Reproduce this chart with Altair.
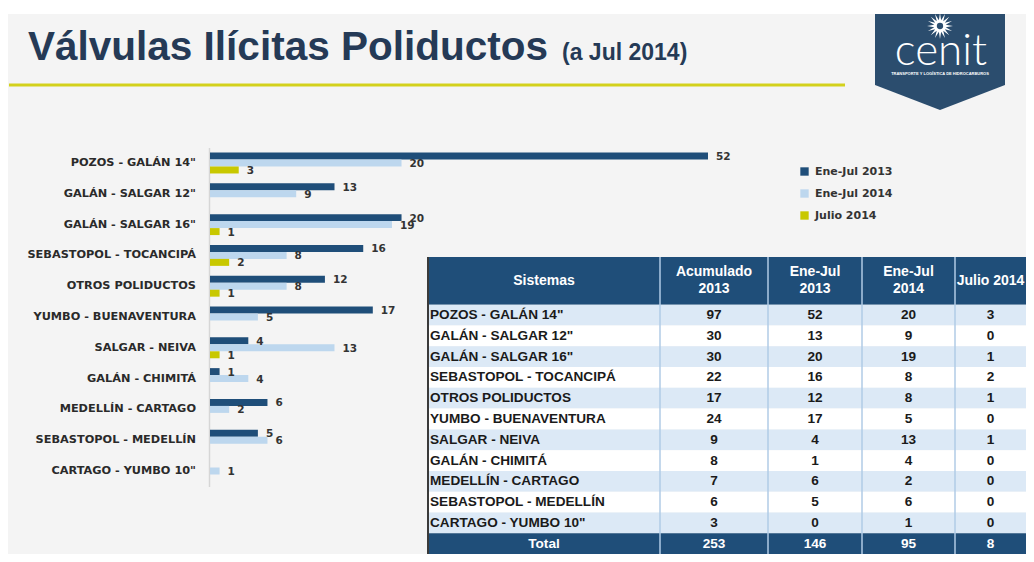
import math
import altair as alt
import pandas as pd

# ---------------- data ----------------
categories = [
    'POZOS - GALÁN 14"',
    'GALÁN - SALGAR 12"',
    'GALÁN - SALGAR 16"',
    "SEBASTOPOL - TOCANCIPÁ",
    "OTROS POLIDUCTOS",
    "YUMBO - BUENAVENTURA",
    "SALGAR - NEIVA",
    "GALÁN - CHIMITÁ",
    "MEDELLÍN - CARTAGO",
    "SEBASTOPOL - MEDELLÍN",
    'CARTAGO - YUMBO 10"',
]
acumulado_2013 = [97, 30, 30, 22, 17, 24, 9, 8, 7, 6, 3]
ene_jul_2013 = [52, 13, 20, 16, 12, 17, 4, 1, 6, 5, 0]
ene_jul_2014 = [20, 9, 19, 8, 8, 5, 13, 4, 2, 6, 1]
julio_2014 = [3, 0, 1, 2, 1, 0, 1, 0, 0, 0, 0]
series_names = ["Ene-Jul 2013", "Ene-Jul 2014", "Julio 2014"]
header_labels = ["Sistemas", "Acumulado\n2013", "Ene-Jul\n2013", "Ene-Jul\n2014", "Julio 2014"]
total_label = "Total"
title_main = "Válvulas Ilícitas Poliductos"
title_sub = "(a Jul 2014)"
logo_word = "cenit"
logo_tagline = "TRANSPORTE Y LOGÍSTICA DE HIDROCARBUROS"

# ---------------- styles / layout ----------------
W, H = 1018, 546
BG = "#f4f4f4"
NAVY = "#1f4e79"
LIGHT = "#bdd7ee"
YELLOW = "#c8c800"
ROW_LIGHT = "#dce9f6"
ROW_WHITE = "#ffffff"
TITLE_COLOR = "#253a56"
TEXT_DARK = "#2a2a2a"
LOGO = "#2b4d6e"

one = pd.DataFrame({"k": [0]})

# ---------------- decorations ----------------
top_band = alt.Chart(one).mark_rect(color="#ffffff").encode(
    x=alt.value(0), x2=alt.value(W), y=alt.value(0), y2=alt.value(6)
)

title1 = alt.Chart(pd.DataFrame({"t": [title_main]})).mark_text(
    align="left", baseline="alphabetic", font="Liberation Sans", fontWeight="bold",
    fontSize=40.5, color=TITLE_COLOR
).encode(x=alt.value(20), y=alt.value(52), text="t:N")

title2 = alt.Chart(pd.DataFrame({"t": [title_sub]})).mark_text(
    align="left", baseline="alphabetic", font="Liberation Sans", fontWeight="bold",
    fontSize=23, color=TITLE_COLOR
).encode(x=alt.value(554), y=alt.value(52), text="t:N")

yellow_line = alt.Chart(one).mark_rule(color="#d3d11c", strokeWidth=3).encode(
    x=alt.value(1), x2=alt.value(837), y=alt.value(77)
)

shield_path = "M-1,-0.7385L1,-0.7385L1,0.354L0,0.7385L-1,0.354Z"
shield = alt.Chart(one).mark_point(
    shape=shield_path, filled=True, fill=LOGO, opacity=1, size=16900, strokeWidth=0
).encode(x=alt.value(932), y=alt.value(54))

pts = []
for k in range(32):
    a = k * math.pi / 16 - math.pi / 2
    r = 1.0 if k % 2 == 0 else 0.45
    pts.append(f"{r*math.cos(a):.3f},{r*math.sin(a):.3f}")
star_path = "M" + "L".join(pts) + "Z"
star = alt.Chart(one).mark_point(
    shape=star_path, filled=True, fill="#ffffff", opacity=1, size=676, strokeWidth=0
).encode(x=alt.value(932), y=alt.value(18))
star_hole = alt.Chart(one).mark_point(
    shape="circle", filled=True, fill=LOGO, opacity=1, size=40, strokeWidth=0
).encode(x=alt.value(932), y=alt.value(18))

logo_text = alt.Chart(pd.DataFrame({"t": [logo_word]})).mark_text(
    align="center", baseline="alphabetic", font="Lato", fontWeight=300,
    fontSize=44, color="#ffffff"
).encode(x=alt.value(933), y=alt.value(57), text="t:N")
logo_tag = alt.Chart(pd.DataFrame({"t": [logo_tagline]})).mark_text(
    align="center", baseline="middle", font="Liberation Sans", fontWeight="bold",
    fontSize=4, color="#ffffff"
).encode(x=alt.value(932), y=alt.value(66), text="t:N")

# ---------------- bar chart ----------------
rows = []
for s, vals in zip(series_names, [ene_jul_2013, ene_jul_2014, julio_2014]):
    for c, v in zip(categories, vals):
        rows.append({"category": c, "series": s, "value": v})
bars_df = pd.DataFrame(rows)

y_enc = alt.Y(
    "category:N",
    scale=alt.Scale(domain=categories, range=[139.6, 478.4], paddingInner=0.32, paddingOuter=0.16),
    axis=None,
)
yoff_enc = alt.YOffset(
    "series:N", scale=alt.Scale(domain=series_names, paddingInner=0, paddingOuter=0)
)
x_enc = alt.X(
    "value:Q", scale=alt.Scale(domain=[0, 52], range=[202, 700], nice=False, zero=True), axis=None
)

bars = alt.Chart(bars_df).mark_bar().encode(
    x=x_enc,
    y=y_enc,
    yOffset=yoff_enc,
    color=alt.Color(
        "series:N",
        scale=alt.Scale(domain=series_names, range=[NAVY, LIGHT, YELLOW]),
        legend=alt.Legend(
            orient="none", legendX=791, legendY=158, title=None, symbolType="square",
            symbolSize=70, symbolStrokeWidth=0, labelFont="DejaVu Sans",
            labelFontWeight="bold", labelFontSize=11, labelColor="#333333",
            rowPadding=10, labelOffset=5, padding=0,
        ),
    ),
)

bar_labels = alt.Chart(bars_df).transform_filter(alt.datum.value > 0).mark_text(
    align="left", baseline="middle", dx=8, dy=1, font="DejaVu Sans", fontWeight="bold",
    fontSize=10.5, color="#333333"
).encode(x=x_enc, y=y_enc, yOffset=yoff_enc, text="value:Q")

cat_labels = alt.Chart(pd.DataFrame({"category": categories})).mark_text(
    align="right", baseline="middle", font="DejaVu Sans", fontWeight="bold",
    fontSize=11.3, color=TEXT_DARK
).encode(x=alt.value(188), y=y_enc, text="category:N")

axis_line = alt.Chart(one).mark_rule(color="#d6d6d6", strokeWidth=1.5).encode(
    x=alt.value(201.5), y=alt.value(140), y2=alt.value(479)
)

bar_group = alt.layer(axis_line, bars, bar_labels, cat_labels)

# ---------------- table ----------------
col_widths = [232, 108, 94, 93, 71]
edges = [0]
for w in col_widths:
    edges.append(edges[-1] + w)
HEADER_UNITS = 2.3
n = len(categories)
total_units = HEADER_UNITS + n + 1

totals = [sum(acumulado_2013), sum(ene_jul_2013), sum(ene_jul_2014), sum(julio_2014)]

cells = []
for j, lab in enumerate(header_labels):
    cells.append(dict(x0=edges[j], x1=edges[j + 1], y0=0, y1=HEADER_UNITS, fill=NAVY,
                      text=lab, tcolor="#ffffff",
                      kind="header2" if "\n" in lab else "header1"))
for i, cat in enumerate(categories):
    fill = ROW_LIGHT if i % 2 == 0 else ROW_WHITE
    y0 = HEADER_UNITS + i
    vals = [cat, acumulado_2013[i], ene_jul_2013[i], ene_jul_2014[i], julio_2014[i]]
    for j, v in enumerate(vals):
        cells.append(dict(x0=edges[j], x1=edges[j + 1], y0=y0, y1=y0 + 1, fill=fill,
                          text=str(v), tcolor="#1a1a1a", kind="left" if j == 0 else "center"))
y0 = HEADER_UNITS + n
for j, v in enumerate([total_label] + totals):
    cells.append(dict(x0=edges[j], x1=edges[j + 1], y0=y0, y1=y0 + 1, fill=NAVY,
                      text=str(v), tcolor="#ffffff", kind="center"))
cells_df = pd.DataFrame(cells)
cells_df["xm"] = (cells_df.x0 + cells_df.x1) / 2
cells_df["xl"] = cells_df.x0 + 2
cells_df["ym"] = (cells_df.y0 + cells_df.y1) / 2

tx = alt.Scale(domain=[0, edges[-1]], range=[420, 1018], nice=False, zero=False)
ty = alt.Scale(domain=[0, total_units], range=[249, 546], nice=False, zero=False)

t_rects = alt.Chart(cells_df).mark_rect(strokeWidth=0).encode(
    x=alt.X("x0:Q", scale=tx, axis=None), x2="x1:Q",
    y=alt.Y("y0:Q", scale=ty, axis=None), y2="y1:Q",
    fill=alt.Fill("fill:N", scale=None),
)

sep_df = pd.DataFrame({"x": edges[1:-1], "y0": [0] * (len(edges) - 2), "y1": [total_units] * (len(edges) - 2)})
t_seps = alt.Chart(sep_df).mark_rule(color="#b0cbe6", strokeWidth=1.5).encode(
    x=alt.X("x:Q", scale=tx, axis=None), y=alt.Y("y0:Q", scale=ty, axis=None), y2="y1:Q"
)
border_df = pd.DataFrame({"x": [0], "y0": [0], "y1": [total_units]})
t_border = alt.Chart(border_df).mark_rule(color="#3a3a3a", strokeWidth=2).encode(
    x=alt.X("x:Q", scale=tx, axis=None), y=alt.Y("y0:Q", scale=ty, axis=None), y2="y1:Q"
)

t_head1 = alt.Chart(cells_df).transform_filter(alt.datum.kind == "header1").mark_text(
    align="center", baseline="middle", font="Liberation Sans", fontWeight="bold",
    fontSize=14, color="#ffffff"
).encode(x=alt.X("xm:Q", scale=tx, axis=None), y=alt.Y("ym:Q", scale=ty, axis=None), text="text:N")

t_head2 = alt.Chart(cells_df).transform_filter(alt.datum.kind == "header2").mark_text(
    align="center", baseline="middle", font="Liberation Sans", fontWeight="bold",
    fontSize=14, lineBreak="\n", lineHeight=17, dy=-8.5, color="#ffffff"
).encode(x=alt.X("xm:Q", scale=tx, axis=None), y=alt.Y("ym:Q", scale=ty, axis=None), text="text:N")

t_left = alt.Chart(cells_df).transform_filter(alt.datum.kind == "left").mark_text(
    align="left", baseline="middle", font="Liberation Sans", fontWeight="bold", fontSize=13.6
).encode(x=alt.X("xl:Q", scale=tx, axis=None), y=alt.Y("ym:Q", scale=ty, axis=None),
         text="text:N", color=alt.Color("tcolor:N", scale=None))

t_center = alt.Chart(cells_df).transform_filter(alt.datum.kind == "center").mark_text(
    align="center", baseline="middle", font="Liberation Sans", fontWeight="bold", fontSize=13.6
).encode(x=alt.X("xm:Q", scale=tx, axis=None), y=alt.Y("ym:Q", scale=ty, axis=None),
         text="text:N", color=alt.Color("tcolor:N", scale=None))

table_group = alt.layer(t_rects, t_seps, t_border, t_head1, t_head2, t_left, t_center)

chart = alt.layer(
    top_band, title1, title2, yellow_line, shield, star, star_hole, logo_text, logo_tag,
    bar_group, table_group,
).resolve_scale(
    x="independent", y="independent", color="independent", fill="independent"
).properties(
    width=W, height=H, padding=0, autosize=alt.AutoSizeParams(type="none"), background=BG
).configure_view(stroke=None)

chart.save("out.html", embed_options={"renderer": "svg", "actions": False})
